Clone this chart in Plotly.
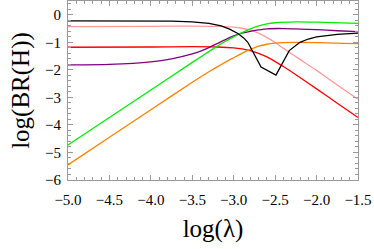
import plotly.graph_objects as go

x_black = [-5.0, -4.5, -4.0, -3.75, -3.5, -3.3, -3.15, -3.05, -2.95, -2.88, -2.83, -2.67, -2.49, -2.33, -2.2, -2.1, -2.0, -1.75, -1.5]
y_black = [-0.22, -0.22, -0.22, -0.23, -0.26, -0.31, -0.40, -0.52, -0.68, -0.84, -1.0, -1.9, -2.19, -1.3, -1.0, -0.88, -0.80, -0.71, -0.67]

x_green = [-5.0, -4.5, -4.0, -3.5, -3.25, -3.1, -3.0, -2.9, -2.8, -2.7, -2.6, -2.5, -2.25, -2.0, -1.5]
y_green = [-4.73, -3.73, -2.73, -1.73, -1.24, -0.96, -0.80, -0.65, -0.51, -0.40, -0.33, -0.29, -0.26, -0.27, -0.31]

x_pink = [-5.0, -4.0, -3.5, -3.2, -3.0, -2.9, -2.8, -2.7, -2.6, -2.5, -2.4, -2.2, -2.0, -1.75, -1.5]
y_pink = [-0.43, -0.42, -0.41, -0.42, -0.45, -0.49, -0.56, -0.67, -0.82, -1.01, -1.22, -1.62, -2.02, -2.55, -3.07]

x_red = [-5.0, -4.0, -3.5, -3.2, -3.0, -2.9, -2.8, -2.7, -2.6, -2.5, -2.4, -2.2, -2.0, -1.75, -1.5]
y_red = [-1.18, -1.17, -1.16, -1.17, -1.20, -1.24, -1.30, -1.40, -1.53, -1.70, -1.88, -2.28, -2.69, -3.21, -3.73]

x_purple = [-5.0, -4.5, -4.0, -3.75, -3.5, -3.4, -3.3, -3.2, -3.1, -3.0, -2.9, -2.8, -2.7, -2.6, -2.4, -2.2, -2.0, -1.75, -1.5]
y_purple = [-1.82, -1.80, -1.71, -1.60, -1.42, -1.32, -1.19, -1.05, -0.90, -0.77, -0.67, -0.60, -0.55, -0.51, -0.50, -0.52, -0.54, -0.58, -0.61]

x_orange = [-5.0, -4.5, -4.0, -3.5, -3.3, -3.2, -3.1, -3.0, -2.9, -2.8, -2.7, -2.6, -2.5, -2.4, -2.0, -1.5]
y_orange = [-5.45, -4.45, -3.45, -2.45, -2.07, -1.89, -1.72, -1.56, -1.40, -1.26, -1.14, -1.07, -1.03, -1.01, -1.01, -1.05]

x_ticks = [-5.0, -4.5, -4.0, -3.5, -3.0, -2.5, -2.0, -1.5]
y_ticks = [-6, -5, -4, -3, -2, -1, 0]

series = [
    (x_pink, y_pink, "#ff9a9a", "spline"),
    (x_red, y_red, "#ff0000", "spline"),
    (x_purple, y_purple, "#800080", "spline"),
    (x_orange, y_orange, "#ff8000", "spline"),
    (x_green, y_green, "#00ee00", "spline"),
    (x_black, y_black, "#000000", "linear"),
]

fig = go.Figure()
for xs, ys, c, shp in series:
    line = dict(color=c, width=1.3, shape=shp)
    if shp == "spline":
        line["smoothing"] = 0.6
    fig.add_trace(go.Scatter(x=xs, y=ys, mode="lines", line=line,
                             showlegend=False, hoverinfo="skip"))

serif = "Liberation Serif"
axis_common = dict(showline=True, mirror="ticks", linecolor="#9a9a9a", linewidth=1,
                   ticks="inside", ticklen=5, tickcolor="#9a9a9a", tickwidth=1,
                   showgrid=False, zeroline=False, automargin=False,
                   tickfont=dict(family=serif, size=15, color="black"))

fig.update_xaxes(range=[-5.0, -1.5], tickvals=x_ticks, ticktext=[f"{v:.1f}".replace("-", "\u2212") for v in x_ticks],
                 minor=dict(ticks="inside", ticklen=3, tickcolor="#9a9a9a", dtick=0.1, tick0=-5.0, showgrid=False),
                 ticklabelstandoff=6,
                 title=dict(text="log(\u03bb)", font=dict(family=serif, size=25, color="black"), standoff=12),
                 **axis_common)
fig.update_yaxes(range=[-6, 0.5], tickvals=y_ticks, ticktext=[str(v).replace("-", "\u2212") for v in y_ticks],
                 minor=dict(ticks="inside", ticklen=3, tickcolor="#9a9a9a", dtick=0.2, tick0=0, showgrid=False),
                 ticklabelstandoff=3,
                 title=dict(text="log(BR(H))", font=dict(family=serif, size=25, color="black"), standoff=8),
                 **axis_common)

fig.update_layout(width=374, height=249, margin=dict(l=68, r=16, t=1, b=69),
                  plot_bgcolor="white", paper_bgcolor="white")

fig.write_html("out.html", config={"displayModeBar": False, "staticPlot": True},
               post_script="document.body.style.margin='0';document.body.style.overflow='hidden';")
